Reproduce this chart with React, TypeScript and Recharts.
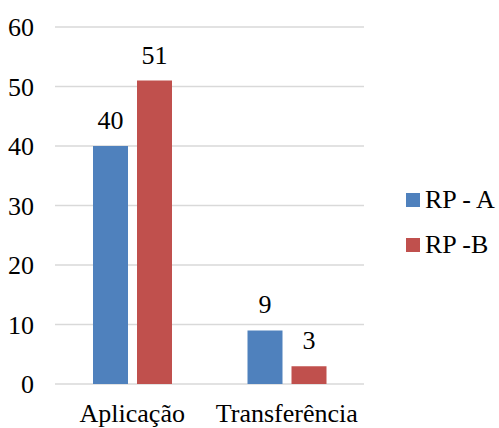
import { BarChart, Bar, XAxis, YAxis, CartesianGrid, Legend, LabelList } from "recharts";

const categories = ["Aplicação", "Transferência"];
const rpA = [40, 9];
const rpB = [51, 3];
const seriesNames = ["RP - A", "RP -B"];
const yTicks = [0, 10, 20, 30, 40, 50, 60];

const colors = ["#4F81BD", "#C0504D"];
const serifFace = "'Liberation Serif', 'Times New Roman', serif";

const chartData = categories.map((name, i) => ({ name, a: rpA[i], b: rpB[i] }));

// legend on the right: small square swatch + series name
function SideLegend() {
  return (
    <div style={{ fontFamily: serifFace, fontSize: 26, color: "#000" }}>
      {seriesNames.map((name, i) => (
        <div key={name} style={{ display: "flex", alignItems: "center", height: 45 }}>
          <span style={{ width: 14, height: 14, background: colors[i], marginRight: 5, flex: "none" }} />
          <span style={{ whiteSpace: "pre" }}>{name}</span>
        </div>
      ))}
    </div>
  );
}

export default function App() {
  const tickStyle = { fontFamily: serifFace, fontSize: 26, fill: "#000" };
  return (
    <div style={{ position: "absolute", left: 0, top: 0, fontFamily: serifFace }}>
      <BarChart
        width={499}
        height={428}
        data={chartData}
        margin={{ top: 27, right: 25, bottom: 0, left: 0 }}
        barSize={35}
        barGap={9}
      >
        <CartesianGrid vertical={false} stroke="#D9D9D9" strokeWidth={1.5} />
        <XAxis
          dataKey="name"
          axisLine={false}
          tickLine={false}
          tickSize={0}
          tickMargin={20}
          height={44}
          tick={tickStyle}
          interval={0}
        />
        <YAxis
          domain={[0, 60]}
          ticks={yTicks}
          axisLine={false}
          tickLine={false}
          tickSize={0}
          tickMargin={21}
          width={55}
          tick={tickStyle}
        />
        <Legend
          layout="vertical"
          align="right"
          verticalAlign="middle"
          content={<SideLegend />}
          wrapperStyle={{ left: 406, top: 177, width: 110 }}
        />
        <Bar dataKey="a" name={seriesNames[0]} fill={colors[0]} isAnimationActive={false}>
          <LabelList dataKey="a" position="top" offset={17} style={tickStyle} />
        </Bar>
        <Bar dataKey="b" name={seriesNames[1]} fill={colors[1]} isAnimationActive={false}>
          <LabelList dataKey="b" position="top" offset={17} style={tickStyle} />
        </Bar>
      </BarChart>
    </div>
  );
}
